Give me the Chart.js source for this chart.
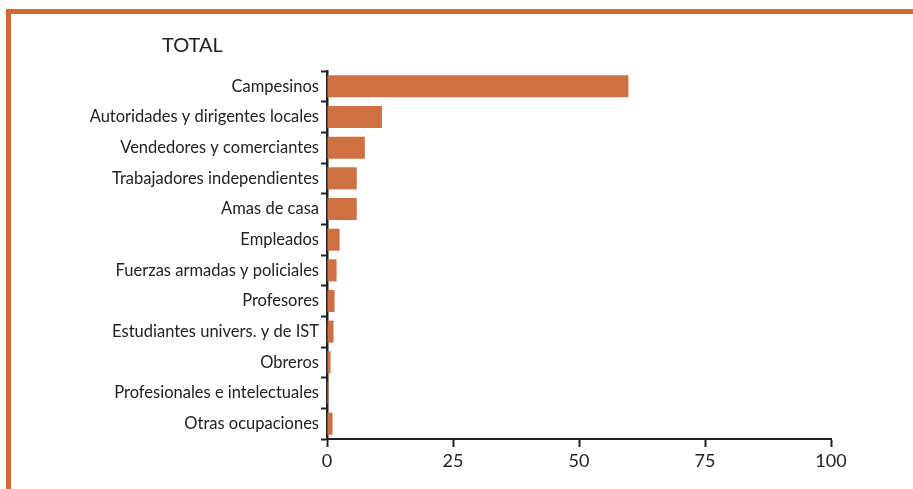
<!DOCTYPE html>
<html>
<head>
<meta charset="utf-8">
<script src="https://cdn.jsdelivr.net/npm/chart.js@4"></script>
<style>
  body { margin: 0; background: #fff; }
  #wrap { position: relative; width: 913px; height: 489px; }
  #frame {
    position: absolute; left: 6px; top: 9px; right: 0; bottom: 0;
    border-top: 5px solid #d3692f; border-left: 5px solid #d3692f;
  }
  canvas { position: absolute; left: 0; top: 0; }
</style>
</head>
<body>
<div id="wrap">
  <div id="frame"></div>
  <canvas id="chart" width="913" height="489"></canvas>
</div>
<script>
// Ocupaciones - TOTAL (%)
const categories = [
  "Campesinos",
  "Autoridades y dirigentes locales",
  "Vendedores y comerciantes",
  "Trabajadores independientes",
  "Amas de casa",
  "Empleados",
  "Fuerzas armadas y policiales",
  "Profesores",
  "Estudiantes univers. y de IST",
  "Obreros",
  "Profesionales e intelectuales",
  "Otras ocupaciones",
];
const values = [59.8, 10.9, 7.5, 5.9, 5.9, 2.5, 1.9, 1.5, 1.3, 0.7, 0.3, 1.1];
const xTicks = [0, 25, 50, 75, 100];

const ink = "#222";
const fontFamily = "Lato, 'Open Sans', sans-serif";

// draws the "TOTAL" heading up left
const headingPlugin = {
  id: "heading",
  afterDraw(chart) {
    const ctx = chart.ctx;
    ctx.save();
    ctx.fillStyle = ink;
    ctx.font = "20px " + fontFamily;
    ctx.textBaseline = "middle";
    ctx.fillText("TOTAL", 162, 46);
    ctx.restore();
  },
};

new Chart(document.getElementById("chart"), {
  type: "bar",
  data: {
    labels: categories,
    datasets: [
      {
        data: values,
        backgroundColor: "#cf7043",
        categoryPercentage: 1,
        barPercentage: 0.72,
      },
    ],
  },
  plugins: [headingPlugin],
  options: {
    indexAxis: "y",
    responsive: false,
    animation: false,
    layout: {
      padding: { top: 71, right: 82, left: 0, bottom: 0 },
    },
    scales: {
      x: {
        min: 0,
        max: 100,
        afterBuildTicks: (scale) => {
          scale.ticks = xTicks.map((v) => ({ value: v }));
        },
        afterFit: (scale) => {
          scale.height = 50;
        },
        border: { color: ink, width: 2 },
        grid: {
          drawOnChartArea: false,
          tickLength: 8,
          tickWidth: 2,
          color: ink,
        },
        ticks: {
          color: ink,
          padding: 3,
          font: { size: 18, family: fontFamily },
        },
      },
      y: {
        afterFit: (scale) => {
          scale.width = 327;
        },
        border: { color: ink, width: 2.5 },
        grid: {
          offset: true,
          drawOnChartArea: false,
          tickLength: 6,
          tickWidth: 2,
          color: ink,
        },
        ticks: {
          color: ink,
          padding: 2,
          font: { size: 16.5, family: fontFamily },
        },
      },
    },
    plugins: {
      legend: { display: false },
      tooltip: { enabled: false },
    },
  },
});
</script>
</body>
</html>
